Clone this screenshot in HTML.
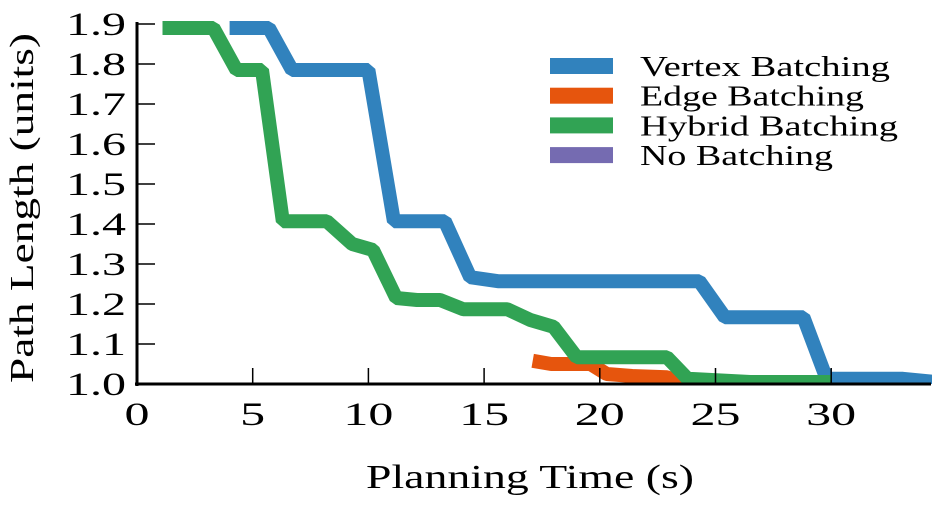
<!DOCTYPE html>
<html><head><meta charset="utf-8"><style>
html,body{margin:0;padding:0;background:#fff;}
svg{display:block;font-family:"Liberation Serif",serif;}
</style></head><body>
<svg id="chart" width="934" height="506" viewBox="0 0 934 506">
<defs><clipPath id="plotclip"><rect x="137" y="0" width="795" height="384"/></clipPath></defs>
<g id="series" clip-path="url(#plotclip)"></g>
<g id="axes"></g>
<g id="legend"></g>
<text x="530" y="488" font-size="34" text-anchor="middle" textLength="328" lengthAdjust="spacingAndGlyphs">Planning Time (s)</text>
<text transform="translate(33,208) rotate(-90)" font-size="34" text-anchor="middle" textLength="350" lengthAdjust="spacingAndGlyphs">Path Length (units)</text>
</svg>
<script>
const seriesNames = ["Vertex Batching","Edge Batching","Hybrid Batching","No Batching"];
const seriesColors = ["#3182bd","#e6550d","#31a354","#756bb1"];
const vertexX = [4.0,5.7,6.7,10.0,11.1,13.3,14.4,15.6,24.3,25.4,28.8,29.8,33.1,34.5];
const vertexY = [1.89,1.89,1.785,1.785,1.407,1.407,1.267,1.257,1.257,1.167,1.167,1.013,1.013,1.005];
const edgeX = [17.1,17.9,19.6,20.3,21.4,22.9,23.5,30.0];
const edgeY = [1.058,1.05,1.05,1.025,1.02,1.017,1.0,1.0];
const hybridX = [1.1,3.3,4.3,5.4,6.3,8.2,9.3,10.2,11.2,12.1,13.1,14.1,16.0,17.0,18.0,19.0,22.9,23.8,26.5,30.0];
const hybridY = [1.89,1.89,1.785,1.785,1.407,1.407,1.35,1.335,1.215,1.21,1.21,1.187,1.187,1.16,1.143,1.067,1.067,1.013,1.005,1.005];
const xTicks = [0,5,10,15,20,25,30];
const yTicks = [1.0,1.1,1.2,1.3,1.4,1.5,1.6,1.7,1.8,1.9];
const NS="http://www.w3.org/2000/svg";
function sx(v){return 137+v*23.14;}
function sy(v){return 384-(v-1.0)*400;}
function mk(tag,attrs,parent){const e=document.createElementNS(NS,tag);for(const k in attrs)e.setAttribute(k,attrs[k]);parent.appendChild(e);return e;}
const sg=document.getElementById('series');
const data=[[vertexX,vertexY],[edgeX,edgeY],[hybridX,hybridY]];
[1,0,2].forEach(i=>{
  const [xs,ys]=data[i];
  const pts=xs.map((x,j)=>sx(x).toFixed(1)+","+sy(ys[j]).toFixed(1)).join(" ");
  const p=mk('polyline',{points:pts,fill:'none',stroke:seriesColors[i],'stroke-width':14,'stroke-linejoin':'bevel'},sg);
  
  
});
const ax=document.getElementById('axes');
const yl=mk('line',{x1:137,y1:22,x2:137,y2:386,stroke:'#000','stroke-width':3},ax);


const xl=mk('line',{x1:135,y1:384,x2:931,y2:384,stroke:'#000','stroke-width':3},ax);


xTicks.forEach(t=>{
  const x=sx(t);
  if(t>0){const tk=mk('line',{x1:x,y1:384,x2:x,y2:368,stroke:'#000','stroke-width':1.5},ax);
  
  }
  const s=String(t);
  const tx=mk('text',{x:x,y:425,'font-size':33,'text-anchor':'middle',textLength:s.length*25,lengthAdjust:'spacingAndGlyphs'},ax);tx.textContent=s;
  
  
});
yTicks.forEach(t=>{
  const y=sy(t);
  const tk=mk('line',{x1:137,y1:y,x2:155,y2:y,stroke:'#000','stroke-width':1.5},ax);
  
  
  const tx=mk('text',{x:126,y:y+11,'font-size':33,'text-anchor':'end',textLength:60,lengthAdjust:'spacingAndGlyphs'},ax);tx.textContent=t.toFixed(1);
  
  
});
const lg=document.getElementById('legend');
const legendW=[250,224,258,193];
seriesNames.forEach((n,i)=>{
  const y=66+i*29.7;
  const r=mk('rect',{x:550,y:y-8,width:63,height:16,fill:seriesColors[i]},lg);
  
  
  const t=mk('text',{x:640,y:y+10,'font-size':29,textLength:legendW[i],lengthAdjust:'spacingAndGlyphs'},lg);t.textContent=n;
  
  
});
</script>
</body></html>
